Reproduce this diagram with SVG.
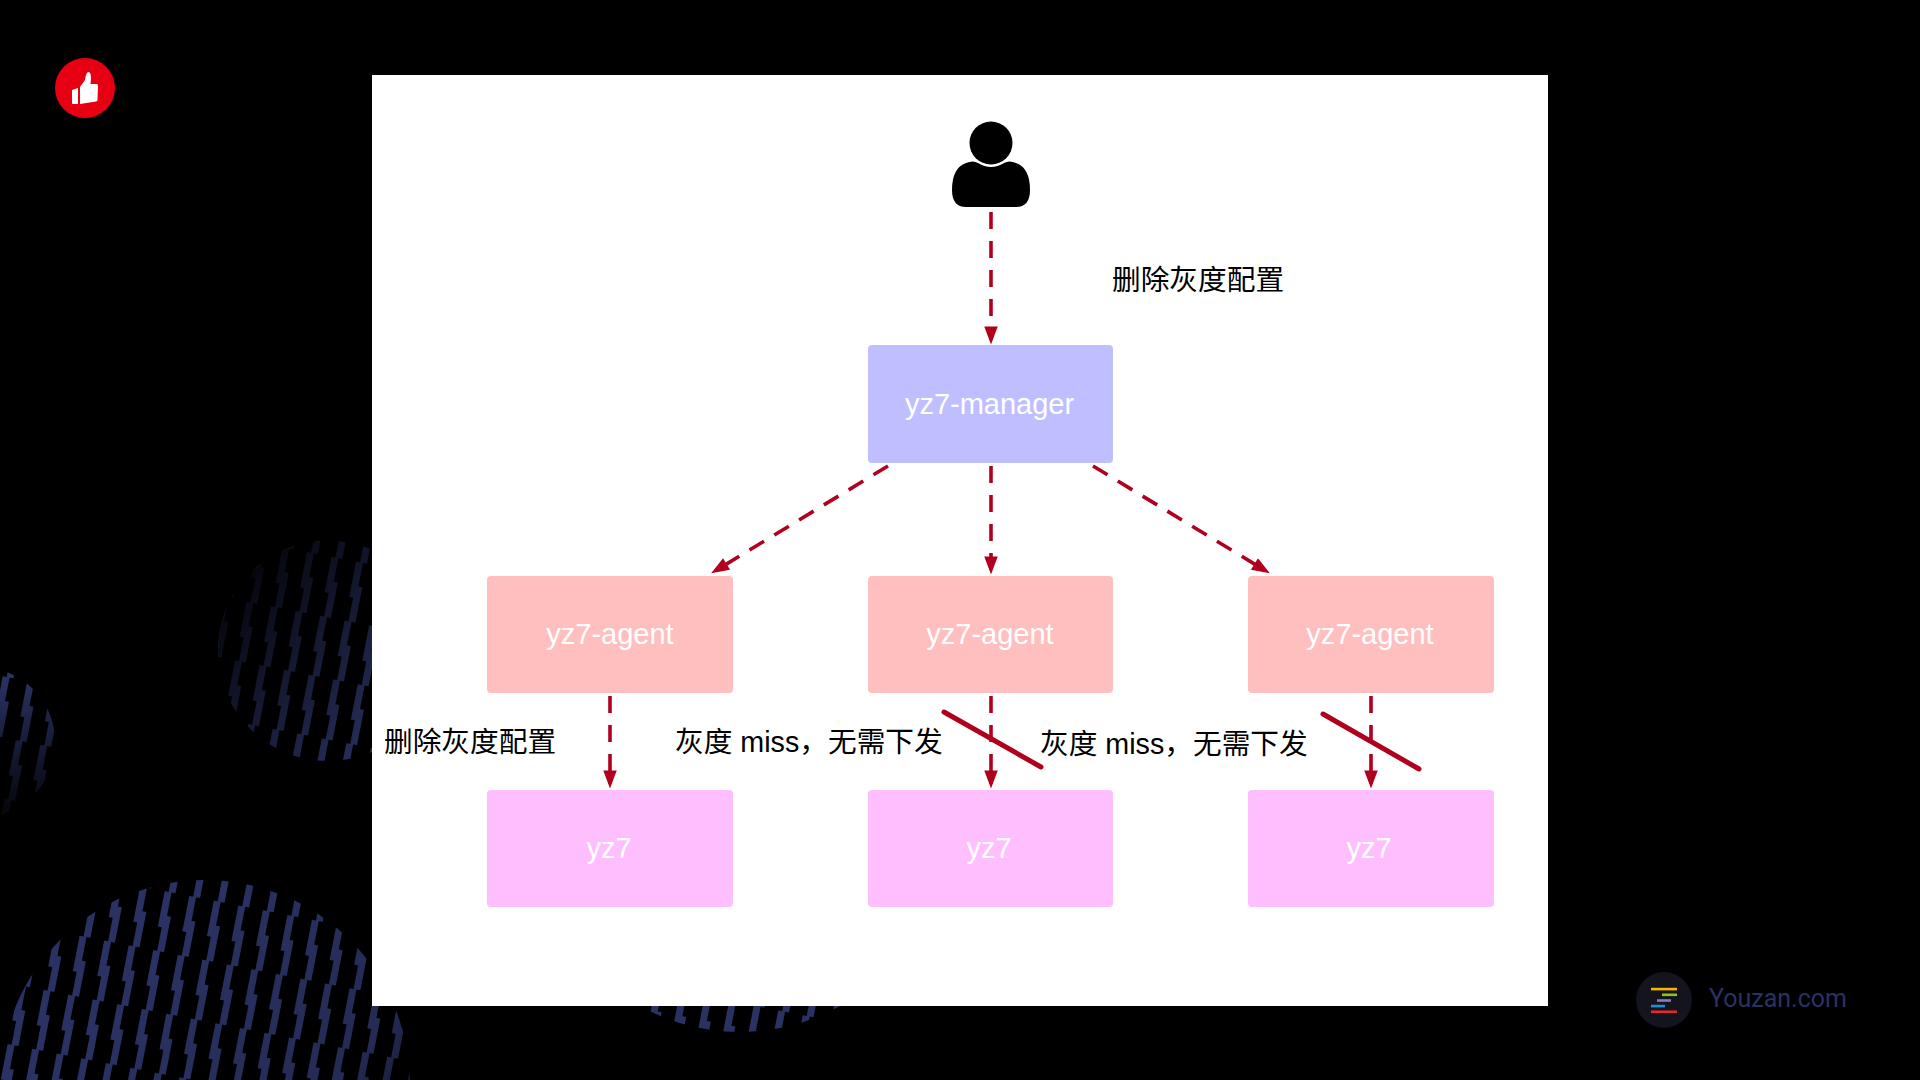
<svg xmlns="http://www.w3.org/2000/svg" width="1920" height="1080" viewBox="0 0 1920 1080">
<style>
.box{stroke:none}
.lbl{font-family:"Liberation Sans",Arial,sans-serif;font-size:29px;fill:#fff;text-anchor:middle}
.cjk{font-family:"Liberation Sans","Noto Sans CJK SC",sans-serif;font-size:28.7px;fill:#000}
.dash{fill:none;stroke:#b0001e;stroke-width:3.6;stroke-dasharray:17 12;marker-end:url(#arr)}
.strike{fill:none;stroke:#b0001e;stroke-width:5;stroke-linecap:round}
</style>
<defs>
<marker id="arr" viewBox="0 0 18 24" refX="18" refY="9" markerUnits="userSpaceOnUse" markerWidth="24" markerHeight="18" orient="auto"><path d="M0 0L24 9L0 18Z" fill="#b0001e"/></marker>
<pattern id="st" width="25" height="60" patternUnits="userSpaceOnUse" patternTransform="translate(3 4) rotate(11)">
<path d="M3 0H10V24H14V60H7V36H3Z M3 60H3Z" fill="#2a3263"/>
</pattern>
<linearGradient id="fadeMid" x1="0.9" y1="0.85" x2="0.1" y2="0.15"><stop offset="0" stop-color="#000" stop-opacity="0"/><stop offset="1" stop-color="#000" stop-opacity="0.9"/></linearGradient>
<linearGradient id="fadeLeft" x1="0.5" y1="0.1" x2="0.6" y2="1"><stop offset="0" stop-color="#000" stop-opacity="0"/><stop offset="1" stop-color="#000" stop-opacity="0.9"/></linearGradient>
<linearGradient id="fadeBig" x1="0.3" y1="0.3" x2="1" y2="0.85"><stop offset="0" stop-color="#000" stop-opacity="0"/><stop offset="0.6" stop-color="#000" stop-opacity="0.15"/><stop offset="1" stop-color="#000" stop-opacity="0.85"/></linearGradient>
</defs>
<rect width="1920" height="1080" fill="#000"/>
<g id="backdrop">
<circle cx="205" cy="1085" r="205" fill="url(#st)"/><circle cx="205" cy="1085" r="205" fill="url(#fadeBig)"/>
<circle cx="328" cy="651" r="110" fill="url(#st)"/><circle cx="328" cy="651" r="110" fill="url(#fadeMid)"/>
<circle cx="-20" cy="742" r="75" fill="url(#st)"/><circle cx="-20" cy="742" r="75" fill="url(#fadeLeft)"/>
<circle cx="740" cy="827" r="205" fill="url(#st)"/>
</g>
<g id="thumb">
<circle cx="85" cy="88" r="30" fill="#e60012"/>
<path d="M72 90L78 88V104L73 104Q72 104 72 103Z M80 104V87L85 80Q86 72 88.500 72Q92 72 90.500 84H97Q98 84 98 86L97.500 100Q97.500 101 96 101.500Z" fill="#fff"/>
</g>
<rect id="panel" x="372" y="75" width="1176" height="931" fill="#fff"/>
<g id="user">
<path d="M952 190Q952 168 966 163Q973 160 978 163Q991 171 1004 163Q1009 160 1016 163Q1030 168 1030 190Q1030 207 1016 207H966Q952 207 952 190Z" fill="#000"/>
<circle cx="991" cy="143" r="21.500" fill="#000"/>
</g>
<g id="connectors">
<path class="dash" d="M991 212V340"/>
<path class="dash" d="M991 466V570"/>
<path class="dash" d="M888 466L715 571"/>
<path class="dash" d="M1093 466L1266 571"/>
<path class="dash" d="M610 696V784"/>
<path class="dash" d="M991 696V784"/>
<path class="dash" d="M1371 696V784"/>
<path class="strike" d="M944 712L1041 767"/>
<path class="strike" d="M1323 714L1419 769"/>
</g>
<g id="manager"><rect class="box" x="868" y="345" width="245" height="118" rx="4" fill="#bfbfff"/><text class="lbl" x="989.500" y="414">yz7-manager</text></g>
<g id="agent1"><rect class="box" x="487" y="576" width="246" height="117" rx="4" fill="#ffbfbf"/><text class="lbl" x="610" y="644">yz7-agent</text></g>
<g id="agent2"><rect class="box" x="868" y="576" width="245" height="117" rx="4" fill="#ffbfbf"/><text class="lbl" x="990" y="644">yz7-agent</text></g>
<g id="agent3"><rect class="box" x="1248" y="576" width="246" height="117" rx="4" fill="#ffbfbf"/><text class="lbl" x="1370" y="644">yz7-agent</text></g>
<g id="yz7-1"><rect class="box" x="487" y="790" width="246" height="117" rx="4" fill="#ffbfff"/><text class="lbl" x="609" y="858">yz7</text></g>
<g id="yz7-2"><rect class="box" x="868" y="790" width="245" height="117" rx="4" fill="#ffbfff"/><text class="lbl" x="989" y="858">yz7</text></g>
<g id="yz7-3"><rect class="box" x="1248" y="790" width="246" height="117" rx="4" fill="#ffbfff"/><text class="lbl" x="1369" y="858">yz7</text></g>
<g id="labels">
<text class="cjk" x="1112" y="290">删除灰度配置</text>
<text class="cjk" x="384" y="752">删除灰度配置</text>
<text class="cjk" x="675" y="752">灰度 miss，无需下发</text>
<text class="cjk" x="1040" y="754">灰度 miss，无需下发</text>
</g>
<g id="brand">
<circle cx="1664" cy="1000" r="28" fill="#14141f"/>
<rect x="1651" y="987.800" width="26" height="2.600" fill="#f5b400"/>
<rect x="1662" y="993.500" width="15" height="2.600" fill="#8dc21f"/>
<rect x="1657" y="999.200" width="14" height="2.600" fill="#8a7cc0"/>
<rect x="1651" y="1004.800" width="14" height="2.600" fill="#1e90d0"/>
<rect x="1651" y="1010.500" width="26" height="2.600" fill="#e8262d"/>
<text x="1709" y="1007" font-family="Roboto,sans-serif" font-size="25px" fill="#2a3263">Youzan.com</text>
</g>
</svg>
